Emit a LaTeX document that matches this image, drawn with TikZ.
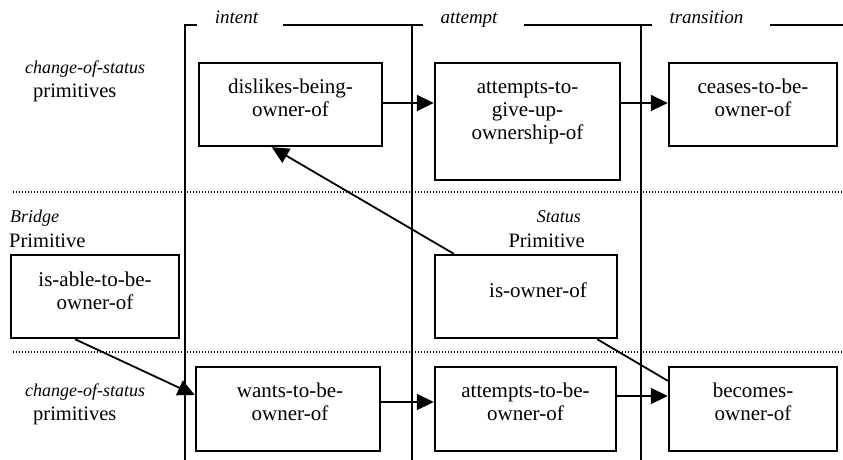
\documentclass[tikz,border=0pt]{standalone}
\usepackage{fontspec}
\setmainfont{Liberation Serif}
\usetikzlibrary{arrows.meta,calc}
\begin{document}
\begin{tikzpicture}[x=1pt,y=-1pt,
  frame/.style={line width=2.4pt},
  box/.style={draw, rectangle, line width=2.4pt, inner sep=0pt},
  boxtext/.style={anchor=north, align=center, inner sep=0pt, font=\fontsize{21}{23}\selectfont},
  phase/.style={anchor=base, inner sep=0pt, font=\fontsize{19}{23}\selectfont\itshape},
  side/.style={anchor=base west, inner sep=0pt, font=\fontsize{20.5}{23}\selectfont},
  sideit/.style={anchor=base west, inner sep=0pt, font=\fontsize{18}{23}\selectfont\itshape},
  sider/.style={anchor=base east, inner sep=0pt, font=\fontsize{20.5}{23}\selectfont},
  sideitr/.style={anchor=base east, inner sep=0pt, font=\fontsize{18}{23}\selectfont\itshape},
  divider/.style={line width=1.1pt, dash pattern=on 1pt off 2pt},
  link/.style={line width=1.8pt, -{Triangle[length=17pt,width=16pt]}},
  plain/.style={line width=1.8pt}]

\useasboundingbox (0,0) rectangle (843,460);

% phase columns and their header rule
\draw[frame] (185,460) -- (185,25) -- (197,25);
\draw[frame] (283,25) -- (423,25);
\draw[frame] (412,25) -- (412,460);
\draw[frame] (524,25) -- (652,25);
\draw[frame] (641,25) -- (641,460);
\draw[frame] (770,25) -- (843,25);

\node[phase] (intent) at (236.5,24) {intent};
\node[phase] (attempt) at (469,24) {attempt};
\node[phase] (transition) at (706.5,24) {transition};

% row dividers
\draw[divider] (13,192) -- (843,192);
\draw[divider] (13,352) -- (843,352);

% row labels
\node[sideit] (cos1) at (25,74) {change-of-status};
\node[side] (prim1) at (33,97) {primitives};
\node[sideit] (bridge) at (10,222) {Bridge};
\node[side] (bprim) at (9,247) {Primitive};
\node[sideitr] (status) at (581,222) {Status};
\node[sider] (sprim) at (585,247) {Primitive};
\node[sideit] (cos2) at (25,396) {change-of-status};
\node[side] (prim2) at (33,420) {primitives};

% primitive boxes
\node[box, minimum width=183pt, minimum height=83pt] (dislikes) at (290.5,104.5) {};
\node[box, minimum width=185pt, minimum height=117pt] (giveup) at (527.5,121.5) {};
\node[box, minimum width=168pt, minimum height=83pt] (ceases) at (753,104.5) {};
\node[box, minimum width=168pt, minimum height=83pt] (isable) at (95,296.5) {};
\node[box, minimum width=182pt, minimum height=83pt] (isowner) at (526,296.5) {};
\node[box, minimum width=184pt, minimum height=84pt] (wants) at (288,409) {};
\node[box, minimum width=181pt, minimum height=84pt] (attbe) at (525.5,409) {};
\node[box, minimum width=168pt, minimum height=84pt] (becomes) at (753,409) {};

% box captions
\node[boxtext] (dislikes-t) at ([yshift=-15pt]dislikes.north) {\strut dislikes-being-\\owner-of};
\node[boxtext] (giveup-t) at ([yshift=-15pt]giveup.north) {\strut attempts-to-\\give-up-\\ownership-of};
\node[boxtext] (ceases-t) at ([yshift=-15pt]ceases.north) {\strut ceases-to-be-\\owner-of};
\node[boxtext] (isable-t) at ([yshift=-16pt]isable.north) {\strut is-able-to-be-\\owner-of};
\node[boxtext] (isowner-t) at ([xshift=12pt,yshift=-27pt]isowner.north) {\strut is-owner-of};
\node[boxtext] (wants-t) at ([xshift=2pt,yshift=-15pt]wants.north) {\strut wants-to-be-\\owner-of};
\node[boxtext] (attbe-t) at ([yshift=-15pt]attbe.north) {\strut attempts-to-be-\\owner-of};
\node[boxtext] (becomes-t) at ([yshift=-15pt]becomes.north) {\strut becomes-\\owner-of};

% connectors
\draw[link] ([yshift=1.5pt]dislikes.east) -- ([yshift=1.5pt]dislikes.east -| giveup.west);
\draw[link] ([yshift=1.5pt]ceases.west -| giveup.east) -- ([yshift=1.5pt]ceases.west);
\draw[link] ([yshift=7pt]wants.east) -- ([yshift=7pt]wants.east -| attbe.west);
\draw[link] ([yshift=13pt]attbe.east) -- ([yshift=13pt]becomes.west);
\draw[link] ([xshift=-20pt]isable.south) -- ([yshift=14pt]wants.west);
\draw[link] ([xshift=20pt]isowner.north west) -- ([xshift=74pt]dislikes.south west);
\draw[plain] ([xshift=-21pt]isowner.south east) -- ([yshift=-15pt]becomes.north west);

\end{tikzpicture}
\end{document}
